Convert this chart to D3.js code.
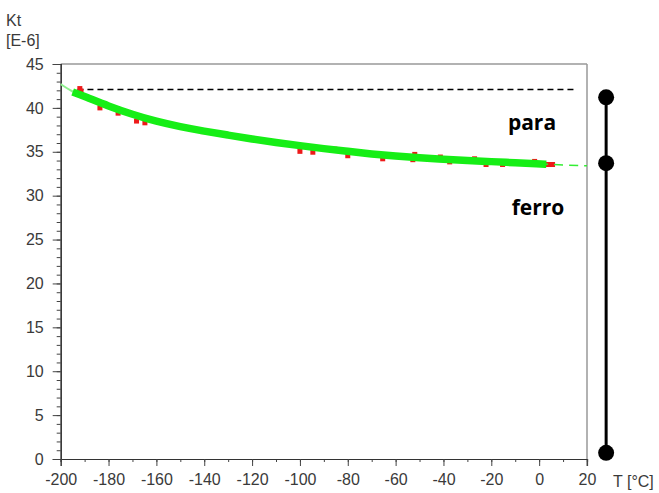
<!DOCTYPE html>
<html><head><meta charset="utf-8">
<script src="https://cdn.jsdelivr.net/npm/d3@7"></script>
<style>body{margin:0;background:#fff}svg{display:block}</style>
</head><body>
<svg id="c" width="659" height="493"></svg>
<script>
// ---- data ----
const xTicks = [-200,-180,-160,-140,-120,-100,-80,-60,-40,-20,0,20];
const yTicks = [0,5,10,15,20,25,30,35,40,45];
// fitted curve (green)
const fitT = [-200,-195,-190,-180,-170,-160,-150,-140,-130,-120,-110,-100,-90,-80,-70,-60,-50,-40,-30,-20,-10,0,3,10,20];
const fitK = [42.7,41.8,41.3,40.2,39.25,38.45,37.85,37.35,36.9,36.45,36.05,35.7,35.35,35.05,34.75,34.5,34.3,34.15,34.0,33.88,33.75,33.62,33.58,33.5,33.4];
const measStartT = -195, measEndT = 3;
// measured points (red)
const measT = [-192,-191.5,-183.6,-176,-168.3,-164.8,-140.5,-121.8,-107.7,-100,-94.6,-85.4,-80,-65.4,-52,-52.8,-41.3,-37.4,-27,-22.2,-15.3,-1.9,1.5,3,4.5,5.6];
const measK = [42.2,41.9,40.0,39.4,38.5,38.3,37.3,36.5,36.0,35.05,34.95,35.3,34.55,34.2,34.7,34.1,34.4,33.85,34.2,33.55,33.55,33.9,33.55,33.55,33.55,33.55];
// reference level (dashed black)
const refK = 42.1, refT = [-193, 15];
// phase markers on the right
const markerT = 28;
const markerK = [41.2, 33.7, 0.7];
const phaseLabels = [{text:"para", T:-3, K:37.5}, {text:"ferro", T:-0.5, K:27.8}];

// ---- drawing ----
const svg = d3.select("#c");
const x = d3.scaleLinear().domain([-200,20]).range([60.7,587]);
const y = d3.scaleLinear().domain([0,45]).range([459,64]);
const font = "'Liberation Sans', Arial, sans-serif";
const txt = "#3a3a3a";
const fmt = d => String(d);

// frame top/right
svg.append("line").attr("x1",x(-200)).attr("x2",x(20)).attr("y1",y(45)).attr("y2",y(45))
  .attr("stroke","#999").attr("stroke-width",1.5);
svg.append("line").attr("x1",x(20)).attr("x2",x(20)).attr("y1",y(45)).attr("y2",y(0)+7)
  .attr("stroke","#999").attr("stroke-width",1.5);

// y axis
const gy = svg.append("g").attr("transform",`translate(${x(-200)},0)`);
gy.call(d3.axisLeft(y).tickValues(d3.range(0,46,1)).tickSize(4).tickFormat(""));
const gy2 = svg.append("g").attr("transform",`translate(${x(-200)},0)`);
gy2.call(d3.axisLeft(y).tickValues(yTicks).tickSize(8).tickPadding(9).tickFormat(fmt));
[gy,gy2].forEach(g=>{g.select(".domain").attr("stroke","#333").attr("stroke-width",1.2);g.selectAll(".tick line").attr("stroke","#444");});
gy2.selectAll("text").attr("font-family",font).attr("font-size",16).attr("fill",txt);

// x axis
const gx = svg.append("g").attr("transform",`translate(0,${y(0)})`);
gx.call(d3.axisBottom(x).tickValues(d3.range(-200,21,10)).tickSize(3).tickFormat(""));
const gx2 = svg.append("g").attr("transform",`translate(0,${y(0)})`);
gx2.call(d3.axisBottom(x).tickValues(xTicks).tickSize(7).tickPadding(8).tickFormat(fmt));
[gx,gx2].forEach(g=>{g.select(".domain").attr("stroke","#333").attr("stroke-width",1.2);g.selectAll(".tick line").attr("stroke","#444");});
gx2.selectAll("text").attr("font-family",font).attr("font-size",16).attr("fill",txt);

// axis titles
svg.append("text").attr("x",6).attr("y",26).text("Kt").attr("font-family",font).attr("font-size",16).attr("fill",txt);
svg.append("text").attr("x",6).attr("y",46).text("[E-6]").attr("font-family",font).attr("font-size",16).attr("fill",txt);
svg.append("text").attr("x",613).attr("y",487).text("T [°C]").attr("font-family",font).attr("font-size",16).attr("fill",txt);

// reference dashed line
svg.append("line").attr("x1",x(refT[0])).attr("x2",x(refT[1])).attr("y1",y(refK)).attr("y2",y(refK))
  .attr("stroke","#000").attr("stroke-width",1.6).attr("stroke-dasharray","6,4");

// red measured points
svg.append("g").selectAll("rect").data(measT.map((t,i)=>[t,measK[i]])).join("rect")
  .attr("x",d=>x(d[0])-2.5).attr("y",d=>y(d[1])-2.5).attr("width",5).attr("height",5).attr("fill","#ee1a1a");

// green fit
const pts = fitT.map((t,i)=>[t,fitK[i]]);
const line = d3.line().x(d=>x(d[0])).y(d=>y(d[1])).curve(d3.curveBasis);
svg.append("path").attr("d",line(pts.filter(d=>d[0]<=measStartT+5))).attr("fill","none")
  .attr("stroke","#8ef08e").attr("stroke-width",2);
svg.append("path").attr("d",line(pts.filter(d=>d[0]>=measEndT-3))).attr("fill","none")
  .attr("stroke","#33ee33").attr("stroke-width",1.5).attr("stroke-dasharray","9,6");
svg.append("path").attr("d",line(pts.filter(d=>d[0]>=measStartT && d[0]<=measEndT))).attr("fill","none")
  .attr("stroke","#16ee16").attr("stroke-width",7.5).attr("stroke-linecap","butt");

// phase labels
phaseLabels.forEach(p=>{
  svg.append("text").attr("x",x(p.T)).attr("y",y(p.K)).attr("text-anchor","middle").text(p.text)
    .attr("font-family","'Open Sans', sans-serif").attr("font-weight",700).attr("font-size",21).attr("fill","#000");
});

// marker line & dots
svg.append("line").attr("x1",x(markerT)).attr("x2",x(markerT)).attr("y1",y(d3.max(markerK))).attr("y2",y(d3.min(markerK)))
  .attr("stroke","#000").attr("stroke-width",3);
svg.append("g").selectAll("circle").data(markerK).join("circle")
  .attr("cx",x(markerT)).attr("cy",d=>y(d)).attr("r",8).attr("fill","#000");
</script>
</body></html>
